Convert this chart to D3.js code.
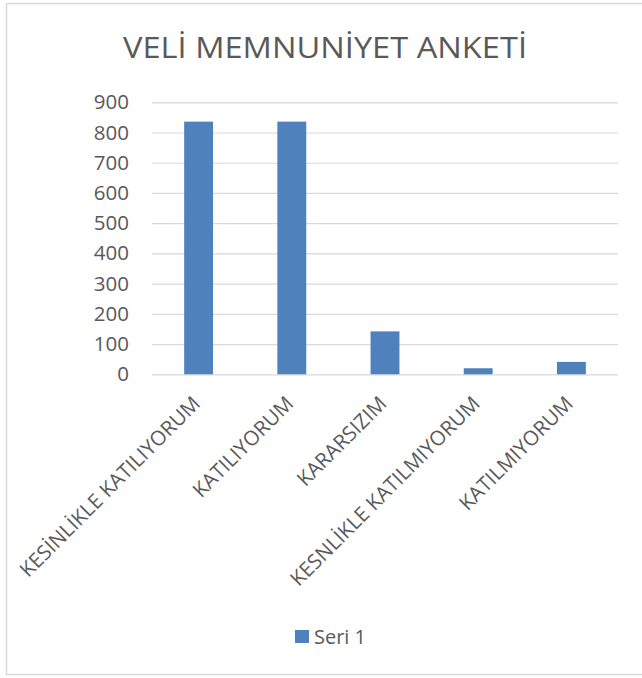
<!DOCTYPE html>
<html>
<head>
<meta charset="utf-8">
<script src="https://cdn.jsdelivr.net/npm/d3@7"></script>
<style>
	body { margin: 0; background: #fff; }
	text { font-family: "Open Sans", sans-serif; fill: #595959; }
</style>
</head>
<body>
<div id="chart"></div>
<script>
var categories = ['KESİNLİKLE KATILIYORUM', 'KATILIYORUM', 'KARARSIZIM', 'KESNLİKLE KATILMIYORUM', 'KATILMIYORUM'];
var seri1 = [836, 836, 142, 20, 41];
var yTicks = [0, 100, 200, 300, 400, 500, 600, 700, 800, 900];
var chartTitle = 'VELİ MEMNUNİYET ANKETİ';
var seriesName = 'Seri 1';

var width = 642,
	height = 678,
	plotLeft = 152,
	plotRight = 618,
	plotTop = 102.3,
	plotBottom = 374.3,
	barColor = '#4f81bd',
	gridColor = '#d9d9d9';

var svg = d3.select('#chart').append('svg')
		.attr('width', width)
		.attr('height', height);

// chart frame
svg.append('rect')
	.attr('x', 6.5)
	.attr('y', 3.5)
	.attr('width', 645)
	.attr('height', 671)
	.attr('fill', 'none')
	.attr('stroke', gridColor)
	.attr('stroke-width', 1.5);

svg.append('text')
	.attr('x', 325)
	.attr('y', 58)
	.attr('text-anchor', 'middle')
	.style('font-size', '29px')
	.attr('textLength', 404)
	.attr('lengthAdjust', 'spacingAndGlyphs')
	.text(chartTitle);

var x = d3.scaleBand()
		.domain(categories)
		.range([plotLeft, plotRight])
		.paddingInner(0.69)
		.paddingOuter(0.345);

var y = d3.scaleLinear()
		.domain([0, 900])
		.range([plotBottom, plotTop]);

var yAxis = svg.append('g')
		.attr('transform', 'translate(' + plotLeft + ',0)')
		.call(d3.axisLeft(y).tickValues(yTicks).tickSize(-(plotRight - plotLeft)).tickPadding(23));

yAxis.select('.domain').remove();
yAxis.selectAll('.tick line')
	.attr('stroke', gridColor)
	.attr('stroke-width', 1.2);
yAxis.selectAll('.tick text')
	.style('font-size', '20.5px')
	.attr('fill', '#595959');

svg.selectAll('.bar')
		.data(seri1)
	.enter().append('rect')
		.attr('class', 'bar')
		.attr('x', function(d, i) { return x(categories[i]); })
		.attr('y', function(d) { return y(d); })
		.attr('width', x.bandwidth())
		.attr('height', function(d) { return y(0) - y(d); })
		.attr('fill', barColor);

svg.selectAll('.xlabel')
		.data(categories)
	.enter().append('text')
		.attr('class', 'xlabel')
		.attr('text-anchor', 'end')
		.style('font-size', '20.5px')
		.attr('transform', function(d) {
			return 'translate(' + (x(d) + x.bandwidth() / 2 + 3) + ',405) rotate(-45)';
		})
		.text(function(d) { return d; });

// legend
var legend = svg.append('g')
		.attr('transform', 'translate(295,630)');

legend.append('rect')
	.attr('width', 14)
	.attr('height', 13)
	.attr('fill', barColor);

legend.append('text')
	.attr('x', 19)
	.attr('y', 13.5)
	.style('font-size', '20px')
	.text(seriesName);
</script>
</body>
</html>
